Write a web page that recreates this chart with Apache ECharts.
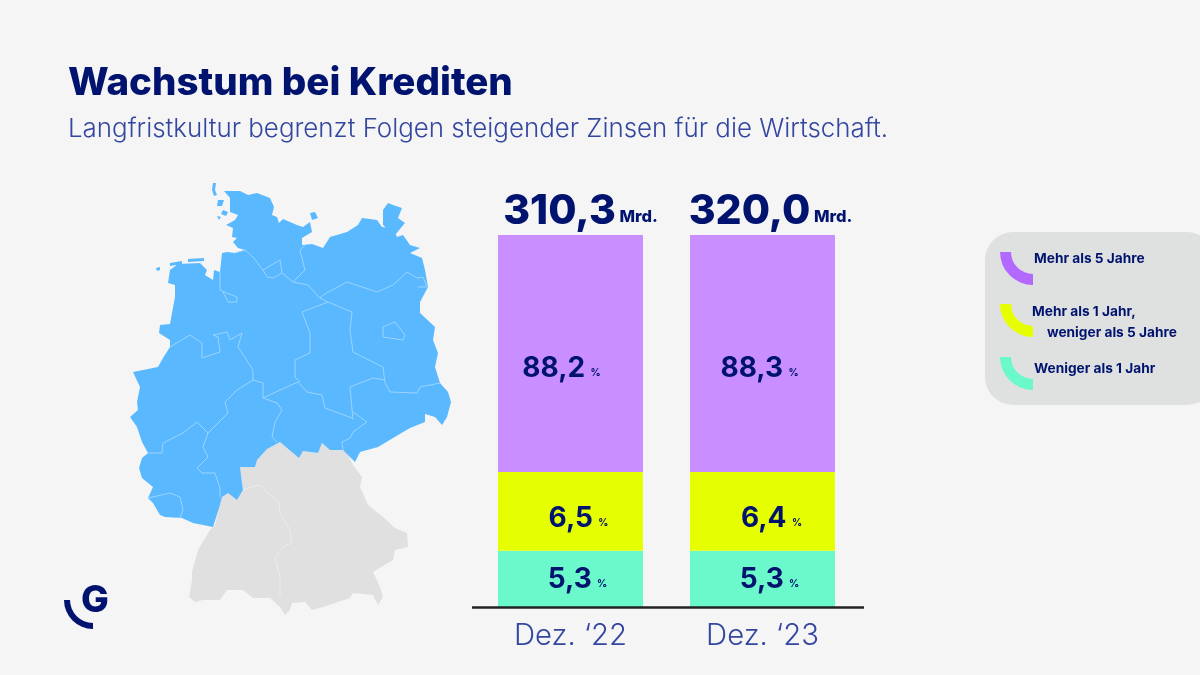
<!DOCTYPE html>
<html>
<head>
<meta charset="utf-8">
<style>html,body{margin:0;padding:0;background:#f5f5f5}#main{width:1200px;height:675px}</style>
<script src="https://cdn.jsdelivr.net/npm/echarts@6/dist/echarts.min.js"></script>
</head>
<body>
<div id="main"></div>
<script>
const categories = ['Dez. ‘22', 'Dez. ‘23'];
const totals = [310.3, 320.0];
// printed percentages
const longShare = [88.2, 88.3];
const midShare = [6.5, 6.4];
const shortShare = [5.3, 5.3];
// segment heights as drawn in the picture (% of bar), the source is not to scale
const longDrawn = [63.7, 63.7];
const midDrawn = [21.2, 21.2];
const shortDrawn = [15.1, 15.1];

const legendNames = ['Mehr als 5 Jahre', 'Mehr als 1 Jahr,', 'weniger als 5 Jahre', 'Weniger als 1 Jahr'];

// map outline, traced in page pixels
const blueOutline = [[224,191],[240,191],[248,195],[257,193],[270,198],[274,207],[272,215],[277,217],[279,223],[283,219],[297,225],[303,227],[310,222],[312,232],[302,238],[302,245],[312,244],[323,248],[330,237],[347,232],[358,225],[362,218],[377,220],[382,227],[393,228],[397,237],[403,235],[410,245],[420,248],[410,253],[422,258],[425,270],[428,287],[420,302],[420,313],[435,327],[433,340],[438,353],[435,367],[440,383],[448,392],[451,402],[447,417],[442,425],[435,417],[425,414],[425,422],[410,428],[393,438],[378,447],[360,452],[355,462],[343,450],[330,450],[322,443],[318,453],[303,451],[299,458],[293,453],[280,442],[267,449],[257,460],[255,467],[240,467],[242,483],[243,490],[237,500],[228,493],[222,497],[220,505],[213,527],[193,523],[182,518],[165,517],[160,515],[153,503],[148,498],[153,487],[142,478],[139,468],[142,458],[148,453],[142,442],[137,427],[130,417],[138,410],[137,402],[140,387],[133,372],[143,370],[158,367],[163,358],[170,347],[170,340],[159,333],[160,325],[170,324],[172,313],[175,297],[175,285],[168,283],[170,270],[178,264],[200,263],[207,270],[205,275],[213,280],[214,270],[220,272],[222,253],[227,252],[235,253],[245,250],[238,248],[233,242],[237,238],[232,237],[233,228],[226,225],[235,220],[238,215],[230,212],[230,198]];
const blueIslands = [
  [[388,203],[393,205],[402,208],[398,218],[405,223],[395,235],[383,225],[383,210]],
  [[310,213],[315,212],[318,218],[312,220]],
  [[213,183],[216,183],[215,190],[217,195],[214,196],[212,190]],
  [[218,200],[224,200],[222,206],[217,206]],
  [[223,210],[228,212],[226,216],[221,214]],
  [[217,216],[221,217],[219,220]],
  [[156,268],[160,267],[160,270],[157,271]],
  [[170,263],[182,261],[182,264],[170,266]],
  [[188,259],[204,258],[204,261],[188,262]]
];
const greyOutline = [[347,453],[353,465],[362,477],[360,487],[368,505],[383,517],[395,528],[407,533],[408,547],[395,550],[393,560],[373,572],[380,587],[383,597],[378,605],[373,595],[353,593],[350,598],[323,607],[312,610],[305,602],[292,603],[290,610],[285,615],[280,607],[270,598],[253,598],[243,590],[227,590],[220,600],[203,600],[195,602],[189,597],[192,580],[192,572],[198,550],[210,530],[215,525],[220,505],[222,497],[228,493],[237,500],[243,490],[242,483],[240,467],[255,467],[257,460],[267,449],[280,442],[293,453],[299,458],[303,451],[318,453],[322,443],[330,450],[343,450]];
const blueBorders = [
  [[235,253],[245,250],[253,257],[263,270]],
  [[263,270],[280,260],[282,273],[293,282]],
  [[263,270],[267,277],[273,278],[282,273]],
  [[293,282],[308,285],[320,298]],
  [[293,282],[305,270],[300,250],[305,245]],
  [[320,298],[323,295],[347,282],[377,292],[393,285],[407,272],[417,278],[423,277],[427,287],[418,287]],
  [[320,298],[328,302],[302,312],[310,333],[310,353],[295,360],[295,377],[300,382]],
  [[328,302],[352,312],[350,330],[353,352],[383,367],[385,383],[390,392],[417,393],[420,387],[440,383]],
  [[383,327],[395,322],[405,335],[403,340],[383,337],[383,327]],
  [[263,398],[280,390],[298,382],[307,392],[322,395],[325,408],[352,418]],
  [[350,387],[373,378],[385,380]],
  [[350,387],[353,420]],
  [[353,412],[367,422],[353,432],[350,438],[342,442],[343,450]],
  [[263,398],[277,403],[282,410],[275,422],[272,437],[277,442]],
  [[213,335],[227,332],[230,340],[242,333],[238,347],[253,370],[253,380],[263,383],[263,398]],
  [[220,272],[220,290],[227,293],[237,297],[237,302],[228,302],[223,292]],
  [[170,347],[190,335],[202,343],[202,358],[220,352],[218,337],[213,335]],
  [[253,380],[237,390],[225,402],[228,413],[208,433]],
  [[148,453],[162,453],[163,443],[183,433],[197,422],[208,433]],
  [[208,433],[203,447],[208,457],[197,468],[202,473],[215,473],[220,488],[220,497]],
  [[148,498],[170,493],[180,497],[183,510],[180,518]]
];
const greyBorders = [
  [[243,490],[252,487],[260,485],[270,495],[279,502],[280,513],[290,530],[292,543],[283,547],[275,558],[280,577],[280,597]]
];

const navy = '#00136f';
const thin = '#3346a0';
const font = 'Inter';

// geo flips y, so the pixel traces go in negated
const toGeo = pts => pts.map(p => [p[0], -p[1]]);
const ring = pts => { const r = toGeo(pts); r.push(r[0].slice()); return r; };

const allPts = [].concat(blueOutline, greyOutline, ...blueIslands);
const xs = allPts.map(p => p[0]), ys = allPts.map(p => p[1]);
const minX = Math.min(...xs), maxX = Math.max(...xs), minY = Math.min(...ys), maxY = Math.max(...ys);

echarts.registerMap('deutschland', {
  type: 'FeatureCollection',
  features: [
    { type: 'Feature', properties: { name: 'sued' },
      geometry: { type: 'Polygon', coordinates: [ring(greyOutline)] } },
    { type: 'Feature', properties: { name: 'nord' },
      geometry: { type: 'MultiPolygon', coordinates: [[ring(blueOutline)]].concat(blueIslands.map(i => [ring(i)])) } }
  ]
});

const fmt = v => v.toFixed(1).replace('.', ',');
const pctLabel = arr => ({
  show: true,
  position: 'inside',
  formatter: p => '{v|' + fmt(arr[p.dataIndex]) + '}{p| %}',
  rich: {
    v: { fontFamily: font, fontWeight: 700, fontSize: 28, color: navy },
    p: { fontFamily: font, fontWeight: 700, fontSize: 10, color: navy, padding: [9, 0, 0, 3] }
  }
});
const offsetData = (arr, offs) => arr.map((v, i) => ({ value: v, label: { offset: offs[i] } }));

const myChart = echarts.init(document.getElementById('main'));
const option = {
  backgroundColor: '#f5f5f5',
  animation: false,
  title: [
    { text: 'Wachstum bei Krediten', left: 63, top: 59,
      textStyle: { fontFamily: font, fontWeight: 800, fontSize: 38.5, color: navy } },
    { text: 'Langfristkultur begrenzt Folgen steigender Zinsen für die Wirtschaft.', left: 63, top: 111,
      textStyle: { fontFamily: font, fontWeight: 300, fontSize: 25.9, color: thin } }
  ],
  geo: {
    map: 'deutschland',
    silent: true,
    roam: false,
    aspectScale: 1,
    left: minX,
    top: minY,
    width: maxX - minX,
    height: maxY - minY,
    label: { show: false },
    itemStyle: { borderWidth: 0, areaColor: '#e0e0e0' },
    regions: [
      { name: 'nord', itemStyle: { areaColor: '#5ab8ff', borderWidth: 0 } },
      { name: 'sued', itemStyle: { areaColor: '#e0e0e0', borderWidth: 0 } }
    ]
  },
  grid: { left: 474.5, width: 384, top: 235, height: 372 },
  xAxis: {
    type: 'category',
    data: categories,
    axisLine: { show: false },
    axisTick: { show: false },
    axisLabel: { fontFamily: font, fontWeight: 300, fontSize: 29.3, color: thin, margin: 15 }
  },
  yAxis: { type: 'value', min: 0, max: 100, show: false },
  series: [
    { name: 'Weniger als 1 Jahr', type: 'bar', stack: 'k', barWidth: 145, silent: true,
      data: offsetData(shortDrawn, [[7, 1], [7, 1]]),
      itemStyle: { color: '#6bf8cb' }, label: pctLabel(shortShare) },
    { name: 'Mehr als 1 Jahr, weniger als 5 Jahre', type: 'bar', stack: 'k', silent: true,
      data: offsetData(midDrawn, [[8, 7], [9, 7]]),
      itemStyle: { color: '#e6ff00' }, label: pctLabel(midShare) },
    { name: 'Mehr als 5 Jahre', type: 'bar', stack: 'k', silent: true,
      data: offsetData(longDrawn, [[-9, 15], [-3, 15]]),
      itemStyle: { color: '#c98eff' }, label: pctLabel(longShare) },
    { name: 'Summe', type: 'bar', stack: 'k', silent: true,
      data: totals.map((v, i) => ({ value: 0, label: { offset: [[10, -3], [8, -3]][i] } })),
      itemStyle: { color: 'transparent' },
      label: {
        show: true, position: 'top', distance: 0,
        formatter: p => '{v|' + fmt(totals[p.dataIndex]) + '}{m| Mrd.}',
        rich: {
          v: { fontFamily: font, fontWeight: 800, fontSize: 41, color: navy },
          m: { fontFamily: font, fontWeight: 800, fontSize: 16.5, color: navy, padding: [12, 0, 0, 0] }
        }
      } },
    { type: 'lines', coordinateSystem: 'geo', polyline: true, silent: true,
      lineStyle: { color: '#9ad4ff', width: 1, opacity: 1 },
      data: blueBorders.map(b => ({ coords: toGeo(b) })) },
    { type: 'lines', coordinateSystem: 'geo', polyline: true, silent: true,
      lineStyle: { color: '#ececec', width: 1, opacity: 1 },
      data: greyBorders.map(b => ({ coords: toGeo(b) })) }
  ],
  graphic: [
    // baseline
    { type: 'line', shape: { x1: 472, y1: 607.5, x2: 864, y2: 607.5 }, style: { stroke: '#222', lineWidth: 2.5 }, z: 10 },
    // legend panel
    { type: 'rect', shape: { x: 985, y: 232, width: 230, height: 173, r: 28 }, style: { fill: '#dfe1e1' }, z: 1 },
    { type: 'sector', shape: { cx: 1033, cy: 252, r: 33, r0: 22, startAngle: Math.PI / 2, endAngle: Math.PI, clockwise: true }, style: { fill: '#b368ff' }, z: 2 },
    { type: 'sector', shape: { cx: 1033, cy: 304, r: 33, r0: 22, startAngle: Math.PI / 2, endAngle: Math.PI, clockwise: true }, style: { fill: '#e6ff00' }, z: 2 },
    { type: 'sector', shape: { cx: 1033, cy: 357, r: 33, r0: 22, startAngle: Math.PI / 2, endAngle: Math.PI, clockwise: true }, style: { fill: '#6bf8cb' }, z: 2 },
    { type: 'text', left: 1034, top: 252, style: { text: legendNames[0], fontFamily: font, fontWeight: 700, fontSize: 13.7, fill: navy }, z: 3 },
    { type: 'text', left: 1032, top: 305, style: { text: legendNames[1], fontFamily: font, fontWeight: 700, fontSize: 13.7, fill: navy }, z: 3 },
    { type: 'text', left: 1047, top: 326, style: { text: legendNames[2], fontFamily: font, fontWeight: 700, fontSize: 13.7, fill: navy }, z: 3 },
    { type: 'text', left: 1034, top: 362, style: { text: legendNames[3], fontFamily: font, fontWeight: 700, fontSize: 13.7, fill: navy }, z: 3 },
    // logo
    { type: 'sector', shape: { cx: 93, cy: 600, r: 29, r0: 23, startAngle: Math.PI / 2, endAngle: Math.PI, clockwise: true }, style: { fill: navy }, z: 3 },
    { type: 'text', left: 81, top: 582, style: { text: 'G', fontFamily: font, fontWeight: 800, fontSize: 37, fill: navy }, z: 3 }
  ]
};
myChart.setOption(option);
</script>
</body>
</html>
